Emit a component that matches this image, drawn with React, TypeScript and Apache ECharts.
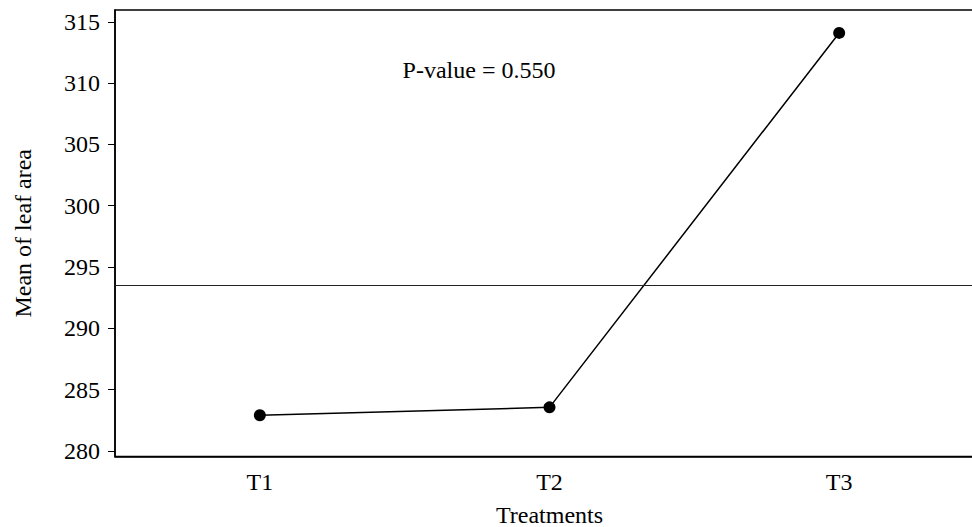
import React, { useEffect, useRef } from "react";
import * as echarts from "echarts";

const categories = ["T1", "T2", "T3"];
const means = [282.9, 283.55, 314.1];
const overallMean = 293.52;
const yTicks = [280, 285, 290, 295, 300, 305, 310, 315];
const pValueText = "P-value = 0.550";

export default function App() {
  const ref = useRef<HTMLDivElement>(null);
  useEffect(() => {
    if (!ref.current) return;
    const chart = echarts.init(ref.current, null, { renderer: "svg" });
    const font = "Times New Roman, Liberation Serif, serif";
    chart.setOption({
      animation: false,
      backgroundColor: "#ffffff",
      textStyle: { fontFamily: font },
      grid: {
        left: 115,
        top: 10,
        width: 869,
        height: 446.5,
        outerBoundsMode: "none",
        containLabel: false,
        show: true,
        borderColor: "#000",
        borderWidth: 1.5,
        backgroundColor: "transparent",
      },
      xAxis: {
        type: "category",
        data: categories,
        boundaryGap: true,
        name: "Treatments",
        nameLocation: "middle",
        nameGap: 46,
        nameTextStyle: { fontFamily: font, fontSize: 24, color: "#000" },
        axisLine: { lineStyle: { color: "#000", width: 1.5 } },
        axisTick: { alignWithLabel: true, length: 7, lineStyle: { color: "#000", width: 1 } },
        axisLabel: { fontFamily: font, fontSize: 24, color: "#000", margin: 13 },
        splitLine: { show: false },
      },
      yAxis: {
        type: "value",
        min: 279.54,
        max: 315.97,
        name: "Mean of leaf area",
        nameLocation: "middle",
        nameGap: 80,
        nameTextStyle: { fontFamily: font, fontSize: 24, color: "#000" },
        axisLine: { show: true, lineStyle: { color: "#000", width: 1.5 } },
        axisTick: { show: true, length: 7, customValues: yTicks, lineStyle: { color: "#000", width: 1 } },
        axisLabel: { fontFamily: font, fontSize: 24, color: "#000", margin: 15, customValues: yTicks },
        splitLine: { show: false },
      },
      graphic: [
        {
          type: "text",
          x: 479,
          y: 58,
          style: {
            text: pValueText,
            fontFamily: font,
            fontSize: 24,
            fill: "#000",
            textAlign: "center",
            textVerticalAlign: "top",
          },
        },
      ],
      series: [
        {
          type: "line",
          data: means,
          symbol: "circle",
          symbolSize: 12,
          itemStyle: { color: "#000" },
          lineStyle: { color: "#000", width: 1.5 },
          markLine: {
            silent: true,
            symbol: "none",
            label: { show: false },
            lineStyle: { color: "#222", width: 1, type: "solid" },
            data: [{ yAxis: overallMean }],
          },
        },
      ],
    });
    return () => chart.dispose();
  }, []);
  return <div ref={ref} style={{ width: 972, height: 527, position: "absolute", left: 0, top: 0 }} />;
}
